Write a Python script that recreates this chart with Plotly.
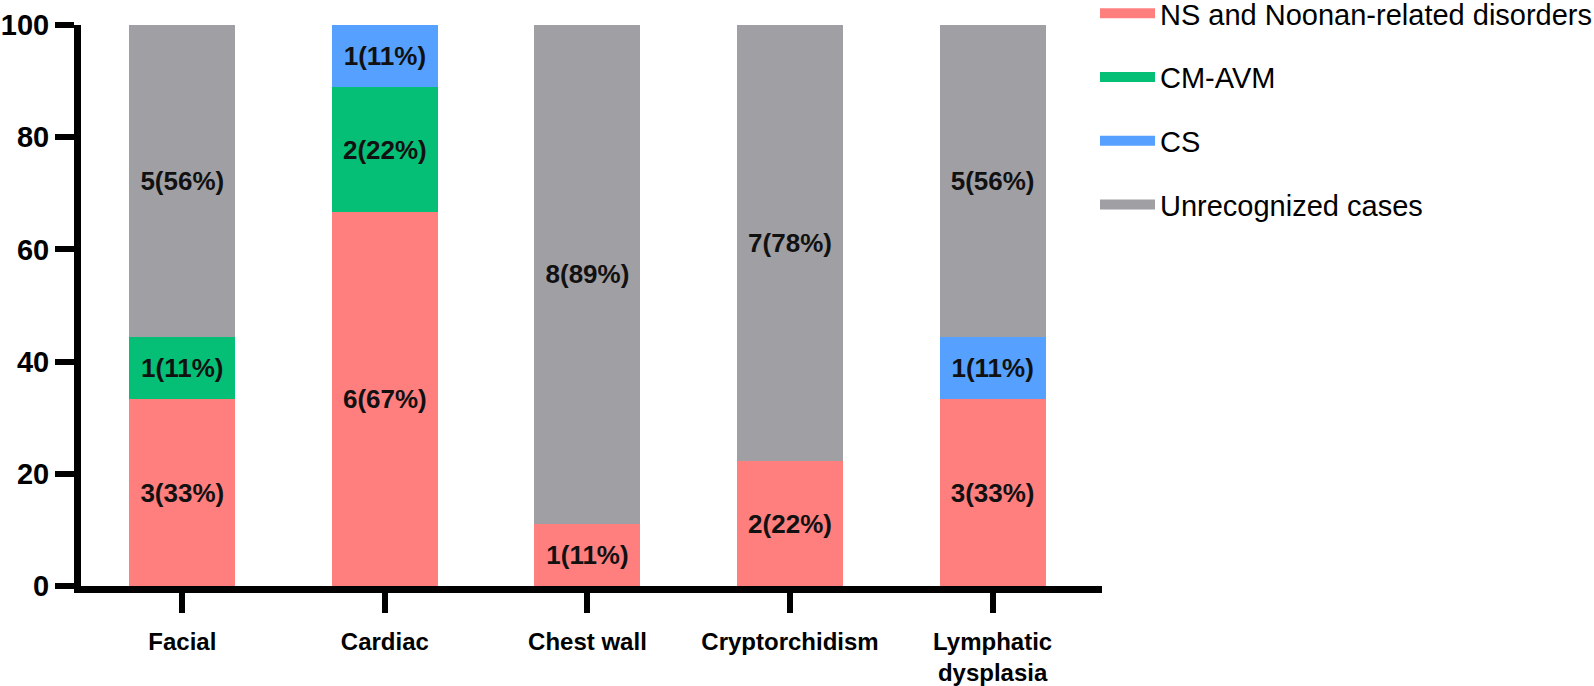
import plotly.graph_objects as go

categories = ["Facial", "Cardiac", "Chest wall", "Cryptorchidism", "Lymphatic<br>dysplasia"]
totals = [9, 9, 9, 9, 9]
series_names = ["NS and Noonan-related disorders", "CM-AVM", "CS", "Unrecognized cases"]
ns_counts = [3, 6, 1, 2, 3]
cmavm_counts = [1, 2, 0, 0, 0]
cs_counts = [0, 1, 0, 0, 1]
unrec_counts = [5, 0, 8, 7, 5]
colors = ["#FF7F7F", "#05BF77", "#56A1FF", "#A09FA4"]
y_ticks = [0, 20, 40, 60, 80, 100]

FONT = "Liberation Sans, Arial, sans-serif"

fig = go.Figure()
for name, counts, color in zip(series_names, [ns_counts, cmavm_counts, cs_counts, unrec_counts], colors):
    pct = [c / t * 100 for c, t in zip(counts, totals)]
    labels = [f"{c}({round(p):d}%)" if c > 0 else "" for c, p in zip(counts, pct)]
    fig.add_trace(go.Bar(
        x=categories, y=pct, name=name, text=labels,
        textposition="inside", insidetextanchor="middle", textangle=0,
        texttemplate="%{text}",
        textfont=dict(family=FONT, size=26, color="#111111", weight="bold"),
        marker=dict(color=color, line=dict(width=0)),
        width=0.523, showlegend=False,
    ))
    # legend entry drawn as a wide swatch
    fig.add_trace(go.Scatter(
        x=[None], y=[None], mode="lines", name=name,
        line=dict(color=color, width=14), legendgroup=name, showlegend=True,
    ))

fig.update_layout(
    barmode="stack",
    width=1594, height=686,
    margin=dict(l=81, r=492, t=25, b=100, autoexpand=False),
    plot_bgcolor="white", paper_bgcolor="white",
    uniformtext=dict(mode="show", minsize=26),
    font=dict(family=FONT, color="#000000"),
    legend=dict(xref="container", yref="paper", x=1095 / 1594, y=1.066,
                xanchor="left", yanchor="top", traceorder="grouped",
                tracegroupgap=23, font=dict(family=FONT, size=29, color="#000000"),
                itemwidth=55, bgcolor="rgba(0,0,0,0)"),
    showlegend=True,
)
fig.update_yaxes(range=[0, 100], tickvals=y_ticks, showgrid=False, zeroline=False,
                 automargin=False,
                 showline=True, linecolor="black", linewidth=7,
                 ticks="outside", ticklen=19, tickwidth=6, tickcolor="black",
                 tickfont=dict(family=FONT, size=29, color="black", weight="bold"))
fig.update_xaxes(range=[-0.5, 4.54], showgrid=False, showline=True, linecolor="black", linewidth=7,
                 automargin=False,
                 ticks="outside", ticklen=20, tickwidth=6, tickcolor="black",
                 ticklabelstandoff=8,
                 tickfont=dict(family=FONT, size=24, color="black", weight="bold"))

fig.write_html("out.html", config={"displayModeBar": False},
               post_script="document.body.style.margin='0';document.body.style.overflow='hidden';")
